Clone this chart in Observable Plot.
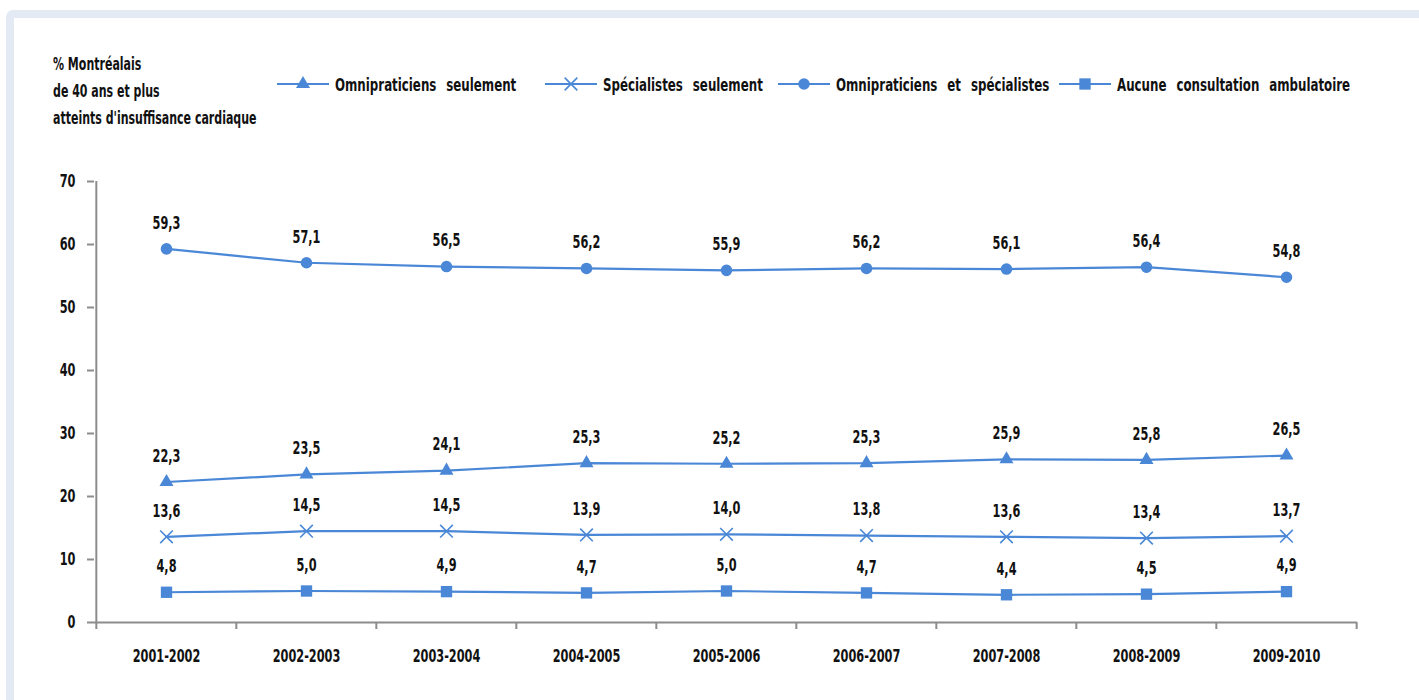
<!DOCTYPE html>
<html lang="fr">
<head>
<meta charset="utf-8">
<script src="https://cdn.jsdelivr.net/npm/d3@7"></script>
<script src="https://cdn.jsdelivr.net/npm/@observablehq/plot@0.6"></script>
<style>
  html, body { margin: 0; padding: 0; background: #fff; }
  body { width: 1419px; height: 700px; position: relative; overflow: hidden;
         font-family: "Liberation Sans Narrow", "DejaVu Sans Condensed", "Arial Narrow", sans-serif;
         font-weight: bold; color: #111; }
  .frame { position: absolute; left: 6px; top: 10px; width: 1440px; height: 720px;
           border: 8px solid #e3eaf4; border-radius: 7px; box-sizing: border-box; }
  .ytitle { position: absolute; left: 53px; top: 50px; font-size: 18px; line-height: 27px;
            white-space: nowrap; transform: scaleX(0.68); transform-origin: left top; }
  .legend-item { position: absolute; top: 72px; height: 24px; display: flex; align-items: center;
                 font-size: 18px; white-space: nowrap; }
  .legend-item svg { margin-right: 6px; flex: none; }
  .legend-item span { word-spacing: 8px; transform: scaleX(0.73); transform-origin: left center; }
  #chart { position: absolute; left: 0; top: 140px; }
</style>
</head>
<body>
<div class="frame"></div>
<div class="ytitle">% Montréalais<br>de 40 ans et plus<br>atteints d'insuffisance cardiaque</div>
<div id="legend"></div>
<div id="chart"></div>
<script>
// Fiscal years on the x axis
const categories = ["2001-2002", "2002-2003", "2003-2004", "2004-2005", "2005-2006",
                    "2006-2007", "2007-2008", "2008-2009", "2009-2010"];

// Percent of Montrealers aged 40+ with heart failure, by type of ambulatory follow-up
const omniSeulement  = [22.3, 23.5, 24.1, 25.3, 25.2, 25.3, 25.9, 25.8, 26.5];
const specSeulement  = [13.6, 14.5, 14.5, 13.9, 14.0, 13.8, 13.6, 13.4, 13.7];
const omniEtSpec     = [59.3, 57.1, 56.5, 56.2, 55.9, 56.2, 56.1, 56.4, 54.8];
const aucune         = [4.8, 5.0, 4.9, 4.7, 5.0, 4.7, 4.4, 4.5, 4.9];

const seriesNames = ["Omnipraticiens seulement", "Spécialistes seulement",
                     "Omnipraticiens et spécialistes", "Aucune consultation ambulatoire"];
const seriesValues = [omniSeulement, specSeulement, omniEtSpec, aucune];
const seriesSymbols = ["triangle", "times", "circle", "square"];

const yTicks = [0, 10, 20, 30, 40, 50, 60, 70];

const lineColor = "#4a87d6";
const axisColor = "#8c8c8c";
const fontFamily = '"Liberation Sans Narrow", "DejaVu Sans Condensed", "Arial Narrow", sans-serif';
const textScaleX = 0.7; // narrow the lettering horizontally

// Long-format table for the marks
const rows = seriesNames.flatMap((name, s) =>
  categories.map((cat, i) => ({ series: name, cat, value: seriesValues[s][i] })));

const fmt = v => v.toFixed(1).replace(".", ",");

const W = 1419, H = 560, ML = 94, MR = 62, MT = 41, MB = 78;
const step = (W - ML - MR) / categories.length;

// Symbol sizes per series (radius in px)
const symbolR = { triangle: 5.2, times: 5.8, circle: 5.8, square: 6.4 };

const dotMarks = seriesNames.map((name, s) => {
  const sym = seriesSymbols[s];
  const data = rows.filter(d => d.series === name);
  return sym === "times"
    ? Plot.dot(data, { x: "cat", y: "value", symbol: () => sym, r: symbolR[sym],
                       stroke: lineColor, strokeWidth: 1.6, fill: "none" })
    : Plot.dot(data, { x: "cat", y: "value", symbol: () => sym, r: symbolR[sym],
                       fill: lineColor, stroke: "none" });
});

const chart = Plot.plot({
  width: W,
  height: H,
  marginLeft: ML,
  marginRight: MR,
  marginTop: MT,
  marginBottom: MB,
  style: { fontFamily, fontSize: "18px", fontWeight: "bold", color: "#111", background: "transparent" },
  x: { type: "point", domain: categories, padding: 0.5, align: 0.5, label: null },
  y: { domain: [0, 70], ticks: yTicks, label: null },
  symbol: { type: "identity" },
  marks: [
    // axis lines
    Plot.ruleY([0], { stroke: axisColor, strokeWidth: 2 }),
    Plot.ruleX([categories[0]], { y1: 0, y2: 70, dx: -step / 2, stroke: axisColor, strokeWidth: 2 }),
    // x tick marks on category boundaries
    Plot.ruleX(categories, { x: d => d, y1: 0, y2: 0, insetBottom: -7, dx: -step / 2,
                             stroke: axisColor, strokeWidth: 2 }),
    Plot.ruleX([categories[categories.length - 1]], { y1: 0, y2: 0, insetBottom: -7, dx: step / 2,
                             stroke: axisColor, strokeWidth: 2 }),
    Plot.axisY({ ticks: yTicks, tickSize: 7, tickPadding: 12, stroke: axisColor, strokeWidth: 2,
                 fontSize: 18, fill: "#111", label: null }),
    Plot.axisX({ tickSize: 0, tickPadding: 27, fontSize: 18, fill: "#111", label: null }),
    // series
    Plot.line(rows, { x: "cat", y: "value", z: "series", stroke: lineColor, strokeWidth: 2.2 }),
    ...dotMarks,
    Plot.text(rows, { x: "cat", y: "value", text: d => fmt(d.value), dy: -26,
                      fontSize: 18, fill: "#111", lineAnchor: "middle" })
  ]
});

// Condense every label horizontally around its anchor point
d3.select(chart).selectAll("text").each(function () {
  const t = this.getAttribute("transform") || "";
  this.setAttribute("transform", `${t} scale(${textScaleX},1)`.trim());
});
document.getElementById("chart").appendChild(chart);

// Legend: a short line with the series symbol, then the label
const legendLeft = [277, 545, 778, 1059];
const legend = document.getElementById("legend");
seriesNames.forEach((name, s) => {
  const item = document.createElement("div");
  item.className = "legend-item";
  item.style.left = legendLeft[s] + "px";
  const sym = seriesSymbols[s];
  const svg = d3.create("svg").attr("width", 52).attr("height", 20);
  svg.append("line").attr("x1", 0).attr("x2", 52).attr("y1", 10).attr("y2", 10)
    .attr("stroke", lineColor).attr("stroke-width", 2.2);
  const symType = { triangle: d3.symbolTriangle, times: d3.symbolTimes,
                    circle: d3.symbolCircle, square: d3.symbolSquare }[sym];
  const r = symbolR[sym];
  const path = svg.append("path")
    .attr("transform", "translate(26,10)")
    .attr("d", d3.symbol(symType, Math.PI * r * r)());
  if (sym === "times") path.attr("fill", "none").attr("stroke", lineColor).attr("stroke-width", 1.6);
  else path.attr("fill", lineColor);
  item.appendChild(svg.node());
  const label = document.createElement("span");
  label.textContent = name;
  item.appendChild(label);
  legend.appendChild(item);
});
</script>
</body>
</html>
